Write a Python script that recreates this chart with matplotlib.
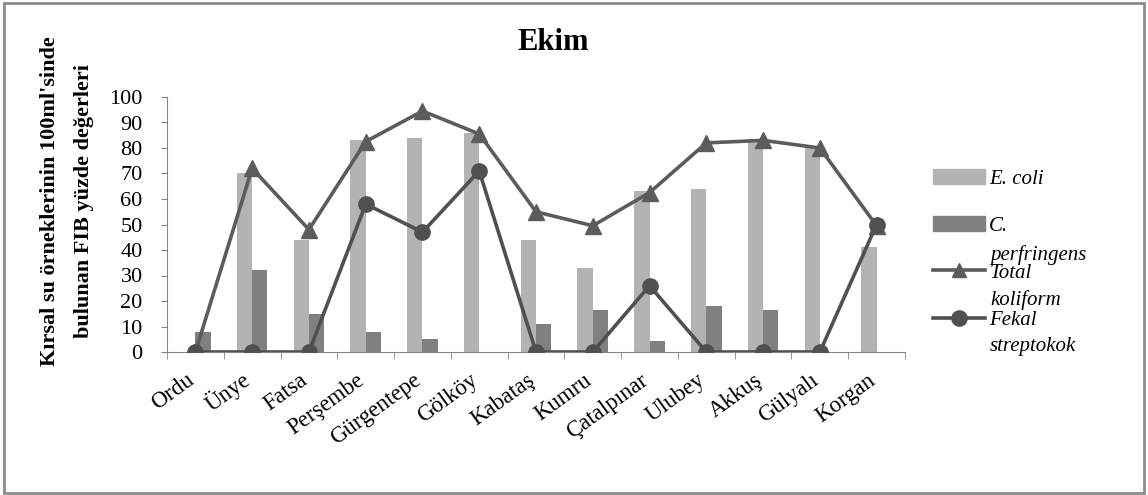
import numpy as np
import matplotlib.pyplot as plt
from matplotlib.patches import Rectangle
from matplotlib.lines import Line2D
from matplotlib.patches import Patch

# veriler
istasyonlar = ['Ordu', 'Ünye', 'Fatsa', 'Perşembe', 'Gürgentepe', 'Gölköy', 'Kabataş',
               'Kumru', 'Çatalpınar', 'Ulubey', 'Akkuş', 'Gülyalı', 'Korgan']
e_coli = [0, 70, 44, 83, 84, 86, 44, 33, 63, 64, 83, 80, 41]
c_perf = [8, 32, 15, 8, 5, 0, 11, 16.5, 4.5, 18, 16.5, 0, 0]
total_kol = [0, 72, 48, 82.5, 94.5, 85.5, 55, 49.5, 62.5, 82, 83, 80, 49.5]
fekal_strep = [0, 0, 0, 58, 47, 71, 0, 0, 26, 0, 0, 0, 50]

serif = 'Liberation Serif'
plt.rcParams['font.family'] = serif

fig = plt.figure(figsize=(11.48, 4.95), dpi=100)
ax = fig.add_axes([167/1148, 1-352/495, (905-167)/1148, (352-97)/495])

x = np.arange(len(istasyonlar))
w = 0.27
ax.bar(x - w/2, e_coli, w, color='#b3b3b3', zorder=2)
ax.bar(x + w/2, c_perf, w, color='#808080', zorder=2)
ax.plot(x, total_kol, color='#5c5c5c', lw=2.6, marker='^', ms=11, zorder=3)
ax.plot(x, fekal_strep, color='#505050', lw=2.6, marker='o', ms=11, zorder=4)

ax.set_xlim(-0.5, len(istasyonlar) - 0.5)
ax.set_ylim(0, 100)
ax.set_yticks(range(0, 101, 10))
ax.tick_params(axis='y', labelsize=16, length=4.5, color='#868686', pad=13)
ax.set_xticks(x)
ax.set_xticklabels(istasyonlar, rotation=36, ha='right', va='baseline',
                   rotation_mode='anchor', fontsize=16.5)
ax.tick_params(axis='x', length=0, pad=22)
ax.set_xticks(np.arange(-0.5, len(istasyonlar)), minor=True)
ax.tick_params(axis='x', which='minor', length=5, color='#868686')
for s in ['top', 'right']:
    ax.spines[s].set_visible(False)
for s in ['left', 'bottom']:
    ax.spines[s].set_color('#868686')
    ax.spines[s].set_clip_on(False)

fig.text(553/1148, 1-42/495, 'Ekim', fontsize=22, fontweight='bold',
         ha='center', va='center')
fig.text(67/1148, 1-201/495, "Kırsal su örneklerinin 100ml'sinde\nbulunan FIB yüzde değerleri",
         rotation=90, fontsize=16, fontweight='bold', ha='center', va='center',
         multialignment='center', linespacing=1.95)

# lejant
handles = [Patch(color='#b3b3b3'), Patch(color='#808080'),
           Line2D([], [], color='#5c5c5c', lw=2.6, marker='^', ms=10),
           Line2D([], [], color='#505050', lw=2.6, marker='o', ms=11)]
leg = fig.legend(handles, ['E. coli', 'C.', 'Total', 'Fekal'], loc='upper left',
                 bbox_to_anchor=(933/1148, 1-169/495), frameon=False, borderpad=0,
                 borderaxespad=0, handlelength=2.5, handletextpad=0.2,
                 labelspacing=1.32, prop={'family': serif, 'style': 'italic', 'size': 15})
for t, y in zip(['perfringens', 'koliform', 'streptokok'], [255, 300, 347]):
    fig.text(990/1148, 1-y/495, t, fontsize=15, style='italic', va='center', ha='left')

fig.add_artist(Rectangle((4/1148, 1-493/495), 1140/1148, 490/495, transform=fig.transFigure,
                         fill=False, edgecolor='#8c8c8c', lw=2))

fig.savefig('out.png', dpi=100)
